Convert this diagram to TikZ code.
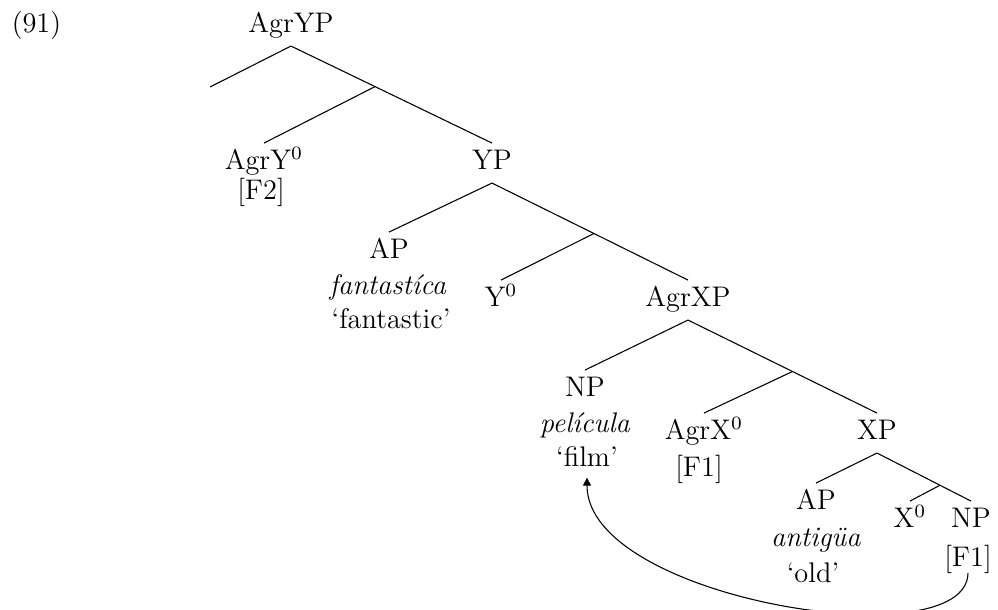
\documentclass[tikz,border=0pt]{standalone}
\usepackage{fontspec}
\setmainfont{lmroman12-regular}[Extension=.otf, ItalicFont=lmroman12-italic]
\usetikzlibrary{arrows.meta,calc}
\begin{document}
\begin{tikzpicture}[x=0.3704pt,y=-0.3704pt,
  font=\fontsize{10.5}{12.6}\selectfont,
  cat/.style={anchor=base, inner sep=0pt, text height=7.17pt, text depth=2.04pt, inner ysep=2.6pt},
  info/.style={anchor=base, inner sep=0pt, text height=7.17pt, text depth=2.04pt},
  branch/.style={line width=0.4pt},
  move/.style={line width=0.4pt, -{Triangle[length=3pt,width=3pt]}},
]
\useasboundingbox (0,0) rectangle (998,610);
\node[cat] (ex) at (36.5,33) {(91)};
\node[cat] (agryp) at (291,33) {AgrYP};
\coordinate (lfree) at (210,87);
\node[cat] (agry) at (264,170) {AgrY$^0$};
\node[info] (f2) at (261,200) {[F2]};
\node[cat] (yp) at (492,170) {YP};
\node[cat] (ap1) at (389,259) {AP};
\node[info] (fant) at (388,295) {\textit{fantastíca}};
\node[info] (fantg) at (391,329) {`fantastic'};
\node[cat] (y0) at (501,307) {Y$^0$};
\node[cat] (agrxp) at (688,307) {AgrXP};
\node[cat] (np1) at (585,397) {NP};
\node[info] (pel) at (585,433) {\textit{película}};
\node[info] (film) at (587,467) {`film'};
\node[cat] (agrx) at (704,440) {AgrX$^0$};
\node[info] (f1a) at (699,477) {[F1]};
\node[cat] (xp) at (877,440) {XP};
\node[cat] (ap2) at (816,510) {AP};
\node[info] (ant) at (816,547) {\textit{antigüa}};
\node[info] (old) at (813,583) {`old'};
\node[cat] (x0) at (910,528) {X$^0$};
\node[cat] (np2) at (971,528) {NP};
\node[info] (f1b) at (968,567) {[F1]};
% junctions
\coordinate (j1) at ($(agryp.south)!0.418!(yp.north)$);
\coordinate (j2) at ($(yp.south)!0.52!(agrxp.north)$);
\coordinate (j3) at ($(agrxp.south)!0.553!(xp.north)$);
\coordinate (j4) at ($(xp.south)!0.67!(np2.north)$);
% branches
\draw[branch] (agryp.south) -- (lfree);
\draw[branch] (agryp.south) -- (yp.north);
\draw[branch] (j1) -- (agry.north);
\draw[branch] (yp.south) -- (ap1.north);
\draw[branch] (yp.south) -- (agrxp.north);
\draw[branch] (j2) -- (y0.north);
\draw[branch] (agrxp.south) -- (np1.north);
\draw[branch] (agrxp.south) -- (xp.north);
\draw[branch] (j3) -- (agrx.north);
\draw[branch] (xp.south) -- (ap2.north);
\draw[branch] (xp.south) -- (np2.north);
\draw[branch] (j4) -- (x0.north);
% movement arrow
\draw[move] (f1b.south) .. controls (967,660) and (587,600) .. ([yshift=-1.7pt]film.south);
\end{tikzpicture}
\end{document}
